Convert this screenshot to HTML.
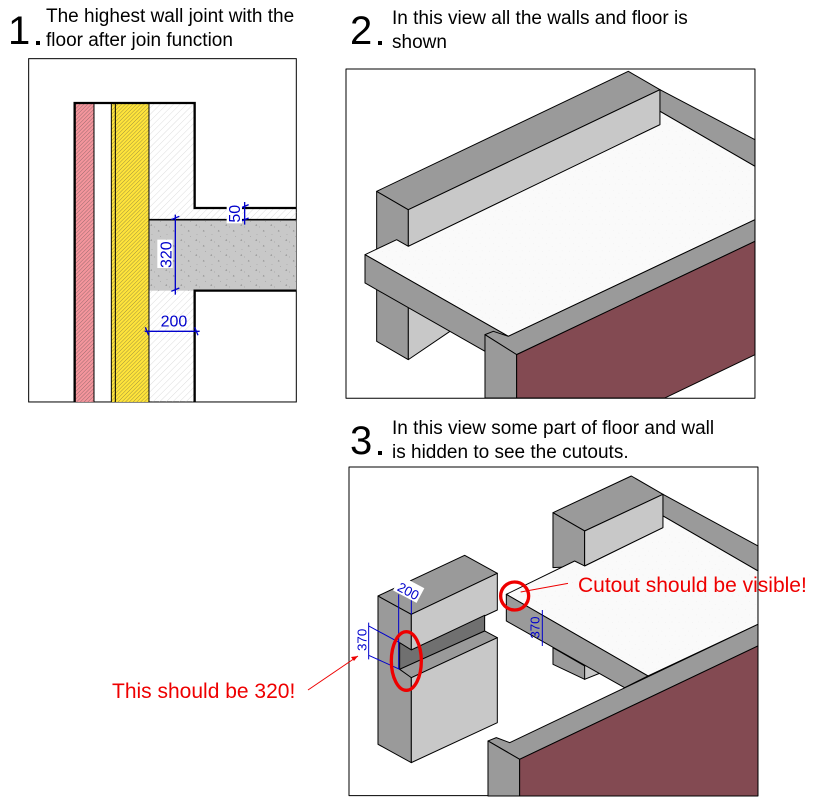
<!DOCTYPE html>
<html><head><meta charset="utf-8"><style>
body{margin:0;background:#fff;width:813px;height:811px;overflow:hidden;font-family:"Liberation Sans",Arial,sans-serif}
svg{position:absolute;left:0;top:0}
</style></head><body>
<svg width="813" height="811" viewBox="0 0 813 811" xmlns="http://www.w3.org/2000/svg" font-family="Liberation Sans, Arial, sans-serif">
<defs>
<pattern id="h1" width="8" height="8" patternUnits="userSpaceOnUse" patternTransform="rotate(45)"><line x1="0" y1="0" x2="0" y2="8" stroke="#444" stroke-width="1.5"/></pattern>
<pattern id="h2" width="14" height="14" patternUnits="userSpaceOnUse" patternTransform="rotate(45)"><line x1="0" y1="0" x2="0" y2="14" stroke="#bbb" stroke-width="1.5"/></pattern>
<pattern id="st" width="40" height="40" patternUnits="userSpaceOnUse"><rect width="40" height="40" fill="#fafafa"/><circle cx="5" cy="7" r="0.6" fill="#bbb"/><circle cx="22" cy="15" r="0.6" fill="#bbb"/><circle cx="33" cy="30" r="0.6" fill="#bbb"/><circle cx="12" cy="28" r="0.6" fill="#bbb"/></pattern>
<pattern id="cc" width="45" height="45" patternUnits="userSpaceOnUse"><rect width="45" height="45" fill="#c8c8c8"/><path d="M8 8l4 0-2-4z M30 25l4 0-2-4z" fill="none" stroke="#777"/><circle cx="20" cy="12" r="1" fill="#777"/><circle cx="38" cy="40" r="1" fill="#777"/><circle cx="12" cy="35" r="1" fill="#777"/></pattern>
</defs>

<g fill="#000">
<text x="8" y="44" font-size="40">1</text><rect x="36" y="41" width="4" height="4"/>
<text x="46" y="22" font-size="19">The highest wall joint with the</text>
<text x="46" y="46" font-size="19">floor after join function</text>
<text x="350" y="44" font-size="40">2</text><rect x="378" y="41" width="4" height="4"/>
<text x="392" y="24" font-size="19">In this view all the walls and floor is</text>
<text x="392" y="48" font-size="19">shown</text>
<text x="350" y="454" font-size="40">3</text><rect x="378" y="451" width="4" height="4"/>
<text x="392" y="434" font-size="19">In this view some part of floor and wall</text>
<text x="392" y="458" font-size="19">is hidden to see the cutouts.</text>
</g>

<g transform="translate(28,58) scale(0.3333)">
<rect x="2" y="2" width="803" height="1030" fill="#fff" stroke="#000" stroke-width="3"/>
<rect x="140" y="135" width="58" height="897" fill="#f4959c"/>
<rect x="140" y="135" width="58" height="897" fill="url(#h1)"/>
<rect x="250" y="135" width="113" height="897" fill="#ffe43a"/>
<rect x="250" y="135" width="113" height="897" fill="url(#h1)"/>
<rect x="363" y="135" width="137" height="897" fill="url(#h2)"/>
<rect x="500" y="450" width="305" height="35" fill="url(#h2)"/>
<rect x="363" y="485" width="442" height="213" fill="url(#cc)"/>
<g fill="none" stroke="#000">
<path d="M140 1032V135H500V450H805" stroke-width="7"/>
<path d="M500 1032V698H805" stroke-width="7"/>
<path d="M363 485H805" stroke-width="5"/>
<path d="M198 135V1032M250 135V1032M262 135V1032M363 135V1032" stroke-width="3"/>
</g>
<g stroke="#00c" stroke-width="4" fill="none">
<path d="M442 470V710M430 485l24 -10M430 700l24-10"/>
<path d="M650 432V500M638 450l24-10M638 490l24-10"/>
<path d="M350 820H515M362 832l-10-24M510 832l-10-24"/>
</g>
<rect x="388" y="545" width="46" height="85" fill="#fff"/>
<text transform="translate(430,630) rotate(-90)" font-size="48" fill="#00c">320</text>
<rect x="596" y="438" width="46" height="58" fill="#fff"/>
<text transform="translate(636,494) rotate(-90)" font-size="48" fill="#00c">50</text>
<text x="398" y="805" font-size="48" fill="#00c">200</text>
</g>

<g transform="translate(345,68) scale(0.3333)" stroke="#000" stroke-width="3" stroke-linejoin="round">
<rect x="3" y="3" width="1227" height="988" fill="#fff"/>
<polygon points="95,370 190,425 190,875 95,820" fill="#9a9a9a"/>
<polygon points="190,700 330,780 190,875" fill="#c8c8c8"/>
<polygon points="95,370 850,10 945,65 190,425" fill="#9a9a9a"/>
<polygon points="190,425 945,65 945,170 190,535" fill="#c8c8c8"/>
<polygon points="945,65 1230,215 1230,295 945,130" fill="#9a9a9a"/>
<polygon points="60,560 155,515 190,535 945,170 945,130 1230,295 1230,455 490,805" fill="url(#st)"/>
<polygon points="60,560 490,805 420,800 420,850 60,645" fill="#9a9a9a"/>
<polygon points="420,800 445,790 490,805 1230,455 1230,520 515,860" fill="#9a9a9a"/>
<polygon points="420,800 515,860 515,990 420,990" fill="#9a9a9a"/>
<polygon points="515,860 1230,520 1230,860 960,990 515,990" fill="#834a52"/>
</g>

<g transform="translate(348,466) scale(0.3333)" stroke="#000" stroke-width="3" stroke-linejoin="round">
<rect x="3" y="3" width="1227" height="986" fill="#fff"/>
<polygon points="615,140 850,30 945,85 710,195" fill="#9a9a9a"/>
<polygon points="615,140 710,195 710,300 615,305" fill="#9a9a9a"/>
<polygon points="710,195 945,85 945,185 710,300" fill="#c8c8c8"/>
<polygon points="945,85 1230,240 1230,315 945,150" fill="#9a9a9a"/>
<polygon points="615,545 710,600 745,620 710,640 615,595" fill="#9a9a9a"/>
<polygon points="710,600 760,575 760,620 710,640" fill="#c8c8c8"/>
<polygon points="475,385 680,285 710,300 945,185 945,150 1230,315 1230,475 900,630" fill="url(#st)"/>
<polygon points="475,385 900,630 830,665 475,465" fill="#9a9a9a"/>
<polygon points="420,825 445,815 485,830 1230,475 1230,540 515,880" fill="#9a9a9a"/>
<polygon points="420,825 515,880 515,990 420,990" fill="#9a9a9a"/>
<polygon points="515,880 1230,540 1230,990 515,990" fill="#834a52"/>
<polygon points="90,390 190,445 190,890 90,835" fill="#9a9a9a"/>
<polygon points="90,390 350,268 448,322 190,445" fill="#9a9a9a"/>
<polygon points="190,445 448,322 448,432 190,552" fill="#c8c8c8"/>
<polygon points="155,530 190,552 410,448 410,495 155,610" fill="#707070"/>
<polygon points="155,610 410,495 448,515 190,635" fill="#9a9a9a"/>
<polygon points="190,635 448,515 448,770 190,890" fill="#c8c8c8"/>
</g>
<g transform="translate(348,466) scale(0.3333)" fill="none">
<g stroke="#00c" stroke-width="3">
<path d="M152 385V610M190 400V445M62 470V580M62 480L155 530M62 568L155 610"/>
<path d="M583 432V540"/>
</g>
<rect x="142" y="345" width="80" height="50" fill="#fff" transform="rotate(28 182 370)"/>
<text transform="translate(145,372) rotate(28)" font-size="40" fill="#00c">200</text>
<text transform="translate(55,555) rotate(-90)" font-size="40" fill="#00c">370</text>
<text transform="translate(575,518) rotate(-90)" font-size="40" fill="#00c">370</text>
<ellipse cx="175" cy="585" rx="45" ry="88" stroke="#e00" stroke-width="10"/>
<circle cx="500" cy="390" r="42" stroke="#e00" stroke-width="10"/>
<path d="M660 352L518 378" stroke="#e00" stroke-width="3"/>
</g>
<text x="578" y="592" font-size="21" fill="#e00">Cutout should be visible!</text>
<text x="112" y="698" font-size="21" fill="#e00">This should be 320!</text>
<path d="M308 690L358 656" stroke="#e00" stroke-width="1"/>
<path d="M358 656l-7 1 3 4z" fill="#e00"/>
</svg>
</body></html>
